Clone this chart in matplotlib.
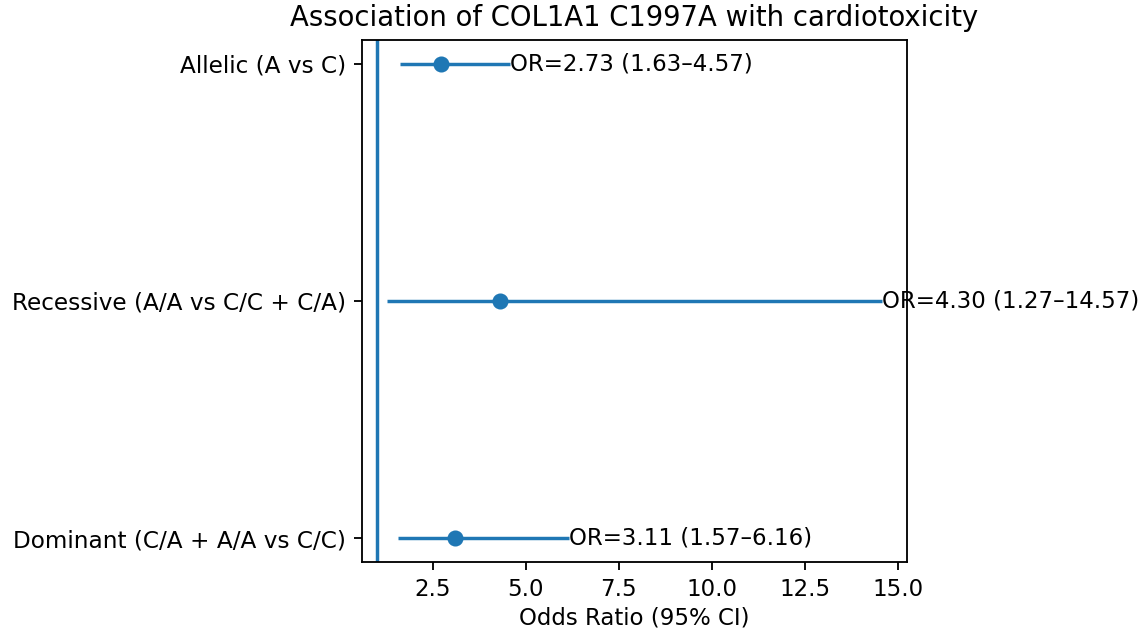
import matplotlib.pyplot as plt

# Data

labels = ["Dominant (C/A + A/A vs C/C)", "Recessive (A/A vs C/C + C/A)", "Allelic (A vs C)"]
odds_ratio = [3.11, 4.30, 2.73]
ci_low = [1.57, 1.27, 1.63]
ci_high = [6.16, 14.57, 4.57]

DPI = 165


def plot_forest():
    fig = plt.figure(figsize=(1148 / DPI, 630 / DPI), dpi=DPI)
    ax = fig.add_axes([0.3153, 0.108, 0.4747, 0.8285])

    ypos = list(range(len(labels)))
    xerr = [
        [o - lo for o, lo in zip(odds_ratio, ci_low)],
        [hi - o for o, hi in zip(odds_ratio, ci_high)],
    ]
    ax.errorbar(odds_ratio, ypos, xerr=xerr, fmt="o", capsize=0)
    ax.axvline(1)

    for y, o, lo, hi in zip(ypos, odds_ratio, ci_low, ci_high):
        ax.text(hi, y, f"OR={o:.2f} ({lo:.2f}\u2013{hi:.2f})", va="center", ha="left")

    ax.set_yticks(ypos)
    ax.set_yticklabels(labels, fontsize=10.1)
    ax.set_xlabel("Odds Ratio (95% CI)", labelpad=2.5)
    ax.set_title("Association of COL1A1 C1997A with cardiotoxicity")

    fig.savefig("out.png", dpi=DPI)
    plt.close(fig)


plot_forest()
